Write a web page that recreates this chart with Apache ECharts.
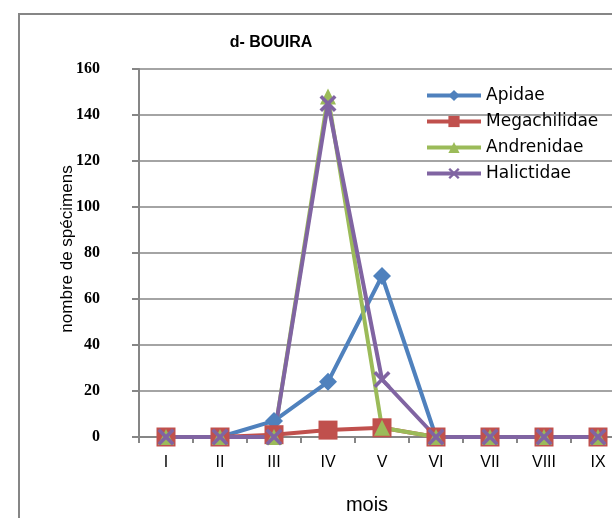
<!DOCTYPE html>
<html><head><meta charset="utf-8">
<script src="https://cdn.jsdelivr.net/npm/echarts@6/dist/echarts.min.js"></script>
<style>html,body{margin:0;padding:0;background:#fff;overflow:hidden}#c{width:640px;height:518px}</style>
</head><body><div id="c"></div>
<script>
const categories = ['I','II','III','IV','V','VI','VII','VIII','IX'];
const apidae = [0,0,7,24,70,0,0,0,0];
const megachilidae = [0,0,1,3,4,0,0,0,0];
const andrenidae = [0,0,0,148,4,0,0,0,0];
const halictidae = [0,0,0,145,25,0,0,0,0];
const seriesNames = ['Apidae','Megachilidae','Andrenidae','Halictidae'];
const yTicks = {min:0, max:160, interval:20};

const chart = echarts.init(document.getElementById('c'), null, {renderer:'canvas'});
const crossPath = 'path://M0,1.5 L1.5,0 L5,3.5 L8.5,0 L10,1.5 L6.5,5 L10,8.5 L8.5,10 L5,6.5 L1.5,10 L0,8.5 L3.5,5 Z';
function mk(name, data, color, symbol, size){
  return {name, type:'line', data, symbol, symbolSize:size, showSymbol:true,
    lineStyle:{color, width:4}, itemStyle:{color}, animation:false};
}
chart.setOption({
  animation:false,
  graphic:[
    {type:'rect', shape:{x:19, y:14, width:700, height:600}, style:{fill:'none', stroke:'#868686', lineWidth:2}, z:-10},
    {type:'text', x:271, y:43, style:{text:'d- BOUIRA', font:'bold 16px "Liberation Sans"', fill:'#000', align:'center', verticalAlign:'middle'}},
    {type:'text', x:67, y:249, rotation:Math.PI/2, style:{text:'nombre de spécimens', font:'17px "Liberation Sans"', fill:'#000', align:'center', verticalAlign:'middle'}},
    {type:'text', x:367, y:505, style:{text:'mois', font:'20px "Liberation Sans"', fill:'#000', align:'center', verticalAlign:'middle'}}
  ],
  legend:{left:420, top:82, orient:'vertical', itemWidth:54, itemHeight:14, itemGap:9,
    lineStyle:{width:4},
    textStyle:{fontFamily:'DejaVu Sans', fontSize:17, color:'#000'}, data:seriesNames},
  grid:{left:139, top:69, width:486, height:368},
  xAxis:{type:'category', data:categories, boundaryGap:true,
    axisLine:{lineStyle:{color:'#868686', width:2}},
    axisTick:{show:true, length:6, lineStyle:{color:'#868686', width:2}},
    axisLabel:{margin:18, fontFamily:'Liberation Sans', fontSize:16, color:'#000'},
    splitLine:{show:false}},
  yAxis:{type:'value', min:yTicks.min, max:yTicks.max, interval:yTicks.interval,
    axisLine:{show:true, lineStyle:{color:'#868686', width:2}},
    axisTick:{show:true, length:7, lineStyle:{color:'#868686', width:2}},
    axisLabel:{margin:39, fontFamily:'Liberation Serif', fontWeight:'bold', fontSize:16, color:'#000'},
    splitLine:{show:true, lineStyle:{color:'#868686', width:1.5}}},
  series:[
    mk('Apidae', apidae, '#4F81BD', 'diamond', 18),
    mk('Megachilidae', megachilidae, '#C0504D', 'rect', 19),
    mk('Andrenidae', andrenidae, '#9BBB59', 'triangle', 16),
    mk('Halictidae', halictidae, '#8064A2', crossPath, 17)
  ]
});
</script></body></html>
